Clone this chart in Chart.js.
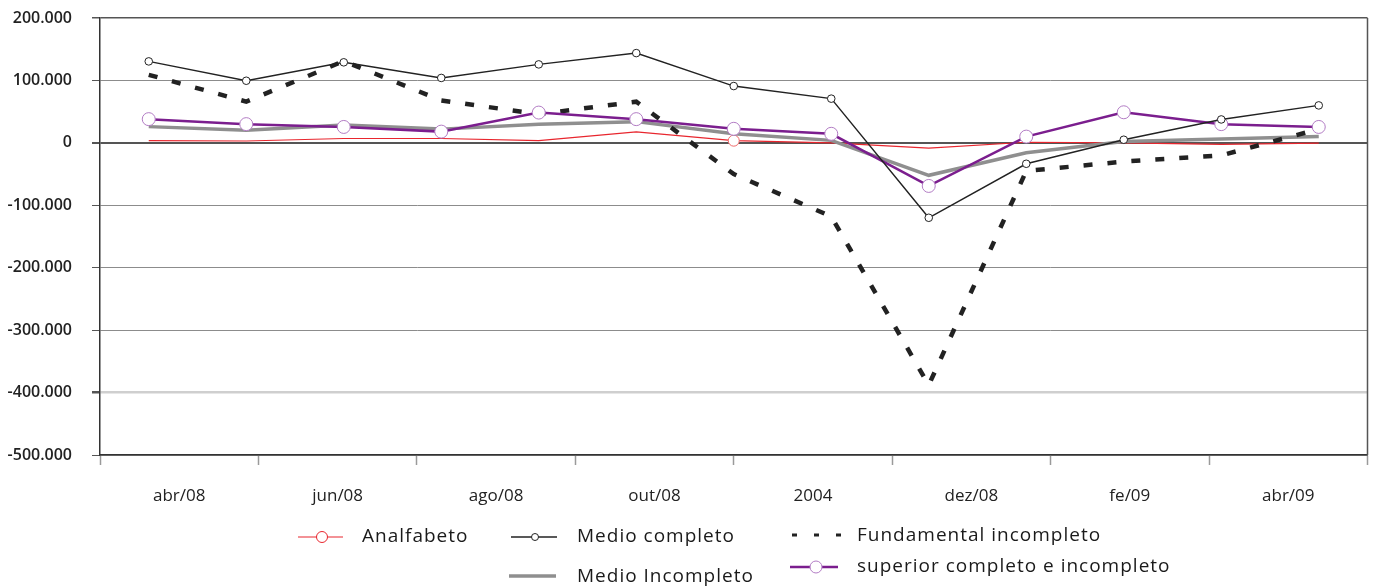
<!DOCTYPE html>
<html>
<head>
<meta charset="utf-8">
<script src="https://cdn.jsdelivr.net/npm/chart.js@4.4.1/dist/chart.umd.min.js"></script>
<style>
  html, body { margin: 0; padding: 0; background: #ffffff; }
  #wrap { position: relative; width: 1375px; height: 587px; }
</style>
</head>
<body>
<div id="wrap"><canvas id="chart" width="1375" height="587"></canvas></div>
<script>
// Monthly points (13) and the eight labels shown under the axis
const months = ['abr/08','mai/08','jun/08','jul/08','ago/08','set/08','out/08','nov/08','dez/08','jan/09','fev/09','mar/09','abr/09'];
const tickLabels = ['abr/08','jun/08','ago/08','out/08','2004','dez/08','fe/09','abr/09'];

const analfabeto      = [3500, 3000, 7000, 7000, 3500, 17500, 3500, 0, -8500, 1000, 0, -2500, -500];
const medioCompleto   = [130500, 99500, 129000, 104000, 125700, 143800, 91000, 70800, -120000, -33500, 5000, 37500, 60000];
const fundamentalInc  = [109000, 66000, 131000, 68000, 46000, 66000, -50000, -118000, -388000, -45000, -30000, -20000, 22000];
const medioIncompleto = [26000, 20000, 28500, 22000, 30000, 34000, 14500, 4000, -52000, -16000, 2000, 6000, 10000];
const superior        = [38000, 30000, 25500, 18000, 48500, 38000, 22500, 14500, -69000, 10000, 49000, 30000, 25500];

const yMin = -500000, yMax = 200000, yStep = 100000;

const RED = '#e8262e', BLACK = '#222222', GRAY = '#8f8f8f', PURPLE = '#7b1e8e', PURPLE_PT = '#b27cc4';
const FONT = '"Open Sans", "Noto Sans", sans-serif';

function fmt(v) {
  const s = Math.abs(v).toString().replace(/\B(?=(\d{3})+(?!\d))/g, '.');
  return (v < 0 ? '-' : '') + s;
}

// Only one Analfabeto point carries a marker
const redRadius = analfabeto.map((v, i) => i === 6 ? 5.5 : 0);

// Right frame edge plus the legend under the axis
const framePlugin = {
  id: 'frameAndLegend',
  afterDraw(chart) {
    const ctx = chart.ctx, a = chart.chartArea;
    ctx.save();
    ctx.strokeStyle = '#555';
    ctx.lineWidth = 1.5;
    ctx.beginPath();
    ctx.moveTo(a.right, a.top);
    ctx.lineTo(a.right, a.bottom);
    ctx.stroke();

    ctx.font = '19px ' + FONT;
    ctx.fillStyle = '#1a1a1a';
    ctx.textBaseline = 'middle';
    ctx.textAlign = 'left';
    try { ctx.letterSpacing = '1px'; } catch (e) {}

    function seg(x1, x2, y, color, w, dash) {
      ctx.save();
      ctx.strokeStyle = color; ctx.lineWidth = w;
      ctx.setLineDash(dash || []);
      ctx.beginPath(); ctx.moveTo(x1, y); ctx.lineTo(x2, y); ctx.stroke();
      ctx.restore();
    }
    function dot(x, y, r, stroke) {
      ctx.save();
      ctx.fillStyle = '#fff'; ctx.strokeStyle = stroke; ctx.lineWidth = 1;
      ctx.beginPath(); ctx.arc(x, y, r, 0, Math.PI * 2); ctx.fill(); ctx.stroke();
      ctx.restore();
    }

    // Analfabeto
    seg(298, 343, 537, RED, 1.2);
    dot(322, 537, 5.5, RED);
    ctx.fillText('Analfabeto', 362, 537);
    // Medio completo
    seg(511, 557, 537, BLACK, 1.4);
    dot(535, 537, 3.5, BLACK);
    ctx.fillText('Medio completo', 577, 537);
    // Fundamental incompleto
    seg(792, 841, 535, BLACK, 3, [5, 17]);
    ctx.fillText('Fundamental incompleto', 857, 536);
    // Medio Incompleto
    seg(509, 556, 576, GRAY, 3.5);
    ctx.fillText('Medio Incompleto', 577, 577);
    // superior completo e incompleto
    seg(790, 838, 567, PURPLE, 2.5);
    dot(816, 567, 6, PURPLE_PT);
    ctx.fillText('superior completo e incompleto', 857, 567);
    ctx.restore();
  }
};

new Chart(document.getElementById('chart'), {
  type: 'line',
  data: {
    labels: months,
    datasets: [
      { label: 'Analfabeto', data: analfabeto, borderColor: RED, borderWidth: 1.2,
        pointRadius: redRadius, pointBackgroundColor: '#fff', pointBorderColor: '#f06a6a', pointBorderWidth: 1,
        tension: 0, order: 5 },
      { label: 'Medio completo', data: medioCompleto, borderColor: BLACK, borderWidth: 1.4,
        pointRadius: 3.8, pointBackgroundColor: '#fff', pointBorderColor: BLACK, pointBorderWidth: 1,
        tension: 0, order: 1 },
      { label: 'Fundamental incompleto', data: fundamentalInc, borderColor: BLACK, borderWidth: 4.5,
        borderDash: [9, 15], borderCapStyle: 'butt', pointRadius: 0, tension: 0, order: 3 },
      { label: 'Medio Incompleto', data: medioIncompleto, borderColor: GRAY, borderWidth: 3.5,
        pointRadius: 0, tension: 0, order: 4 },
      { label: 'superior completo e incompleto', data: superior, borderColor: PURPLE, borderWidth: 2.5,
        pointRadius: 6.5, pointBackgroundColor: '#fff', pointBorderColor: PURPLE_PT, pointBorderWidth: 1,
        tension: 0, order: 2 }
    ]
  },
  options: {
    responsive: false,
    animation: false,
    events: [],
    layout: { padding: { left: 0, right: 6, top: 18, bottom: 82 } },
    plugins: { legend: { display: false }, tooltip: { enabled: false } },
    scales: {
      x: { type: 'category', display: false, offset: true },
      x2: {
        type: 'category', labels: tickLabels, position: 'bottom', offset: true,
        grid: { offset: true, drawOnChartArea: false, tickLength: 10, tickColor: '#9a9a9a', tickWidth: 1.5 },
        border: { display: true, color: '#333', width: 1.5 },
        ticks: { color: '#222', font: { family: FONT, size: 17 }, padding: 21, maxRotation: 0, autoSkip: false },
        afterFit(scale) { scale.height = 50; }
      },
      y: {
        min: yMin, max: yMax,
        ticks: { stepSize: yStep, color: '#222', padding: 20,
          font: { family: FONT, size: 16, weight: '600' }, callback: v => fmt(v) },
        grid: {
          tickLength: 8,
          tickColor: '#555',
          color: c => c.tick.value === 0 ? '#555' : (c.tick.value === -400000 ? '#cfcfcf' : (c.tick.value === yMax ? '#555' : '#8c8c8c')),
          lineWidth: c => c.tick.value === 0 ? 2 : (c.tick.value === -400000 ? 2.5 : (c.tick.value === yMax ? 1.5 : 1))
        },
        border: { display: true, color: '#333', width: 1.5 },
        afterFit(scale) {
          scale.width = 100;
          scale.paddingTop = 10;
          scale.paddingBottom = 10;
        }
      }
    }
  },
  plugins: [framePlugin]
});
</script>
</body>
</html>
